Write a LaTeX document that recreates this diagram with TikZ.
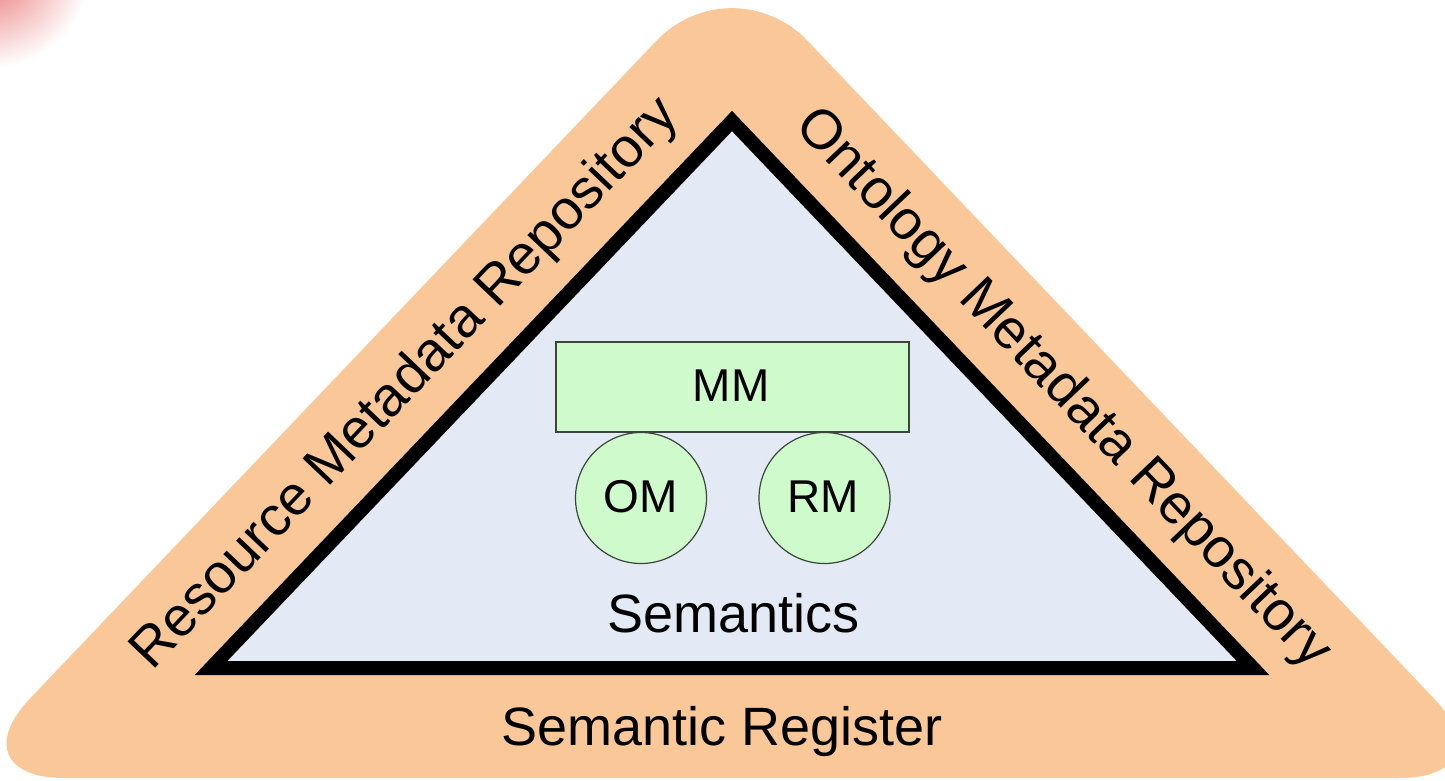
\documentclass[tikz,border=0pt]{standalone}
\usepackage{fontspec}
\setmainfont{Liberation Sans}
\definecolor{bandorange}{RGB}{250,200,152}
\definecolor{corefill}{RGB}{228,234,245}
\definecolor{partgreen}{RGB}{206,250,204}
\definecolor{partline}{RGB}{60,70,60}
\definecolor{hazered}{RGB}{234,122,122}
\begin{document}
\begin{tikzpicture}[x=1pt,y=-1pt,
  bigtext/.style={font=\fontsize{54}{60}\selectfont, inner sep=0pt},
  edgetext/.style={font=\fontsize{55.5}{62}\selectfont, inner sep=0pt, anchor=base},
  parttext/.style={font=\fontsize{46}{52}\selectfont},
  partbox/.style={draw=partline, line width=1.2pt, fill=partgreen, inner sep=0pt},
]
\useasboundingbox (0,0) rectangle (1445,780);
\clip (0,0) rectangle (1445,780);

% soft reddish haze in the top-left corner
\shade[inner color=hazered, outer color=white] (-12,-22) ellipse (100 and 90);

% outer register band: rounded triangle
\fill[bandorange, rounded corners=110pt]
  (-45.7,778) -- (732,-38.5) -- (1509.7,778) -- cycle;

% inner semantics triangle
\draw[line width=14pt, line join=miter, fill=corefill]
  (732,121) -- (211,668) -- (1253,668) -- cycle;

% metamodel parts
\node[partbox, minimum width=353pt, minimum height=90pt] (mm) at (732.5,387) {};
\node[parttext, anchor=base] (mmlabel) at (731,401) {MM};
\node[partbox, circle, minimum size=131pt] (om) at (641,498) {};
\node[parttext, anchor=base] (omlabel) at (641,512) {OM};
\node[partbox, circle, minimum size=131pt] (rm) at (824.5,498) {};
\node[parttext, anchor=base] (rmlabel) at (823,512) {RM};

% labels
\node[bigtext, anchor=base] (sem) at (733.5,632) {Semantics};
\node[bigtext, anchor=base] (reg) at (722,745) {Semantic Register};
\node[edgetext, rotate=46.4] (rmr) at (416.5,394.2) {Resource Metadata Repository};
\node[edgetext, rotate=-46.4] (omr) at (1051.8,398.8) {Ontology Metadata Repository};
\end{tikzpicture}
\end{document}
